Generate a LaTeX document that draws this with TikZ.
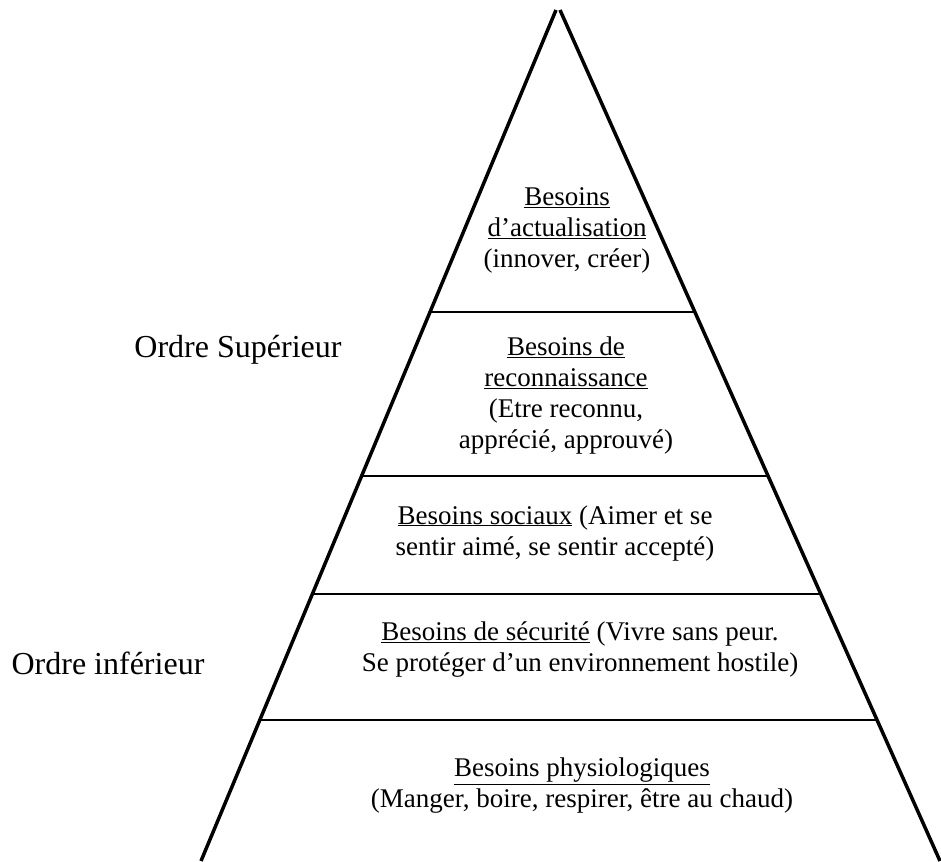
\documentclass[tikz,border=0pt]{standalone}
\usepackage{fontspec}
\setmainfont{Liberation Serif}
\usetikzlibrary{calc}

\begin{document}
\begin{tikzpicture}[x=1pt, y=-1pt,
    side/.style={line width=3.5pt},
    shelf/.style={line width=1.5pt},
    level/.style={align=center, inner sep=0pt, font=\fontsize{27}{31}\selectfont},
    order/.style={inner sep=0pt, font=\fontsize{32}{38}\selectfont}]
    \useasboundingbox (0,0) rectangle (941,861);
    % the two sides of the pyramid
    \coordinate (apex left) at (556,10);
    \coordinate (apex right) at (560,10);
    \coordinate (base left) at (201,861);
    \coordinate (base right) at (940,861);
    \draw [side] (apex left) -- (base left);
    \draw [side] (apex right) -- (base right);
    % the lines between the levels
    \coordinate (left 1) at ($(apex left)!0.3549!(base left)$);
    \coordinate (right 1) at ($(apex right)!0.3549!(base right)$);
    \coordinate (left 2) at ($(apex left)!0.5476!(base left)$);
    \coordinate (right 2) at ($(apex right)!0.5476!(base right)$);
    \coordinate (left 3) at ($(apex left)!0.6863!(base left)$);
    \coordinate (right 3) at ($(apex right)!0.6863!(base right)$);
    \coordinate (left 4) at ($(apex left)!0.8343!(base left)$);
    \coordinate (right 4) at ($(apex right)!0.8343!(base right)$);
    \draw [shelf] (left 1) -- (right 1);
    \draw [shelf] (left 2) -- (right 2);
    \draw [shelf] (left 3) -- (right 3);
    \draw [shelf] (left 4) -- (right 4);
    % needs, from the top down
    \node at (567,230) [level] (actualisation) {\underline{Besoins}\\\underline{d’actualisation}\\(innover, créer)};
    \node at (566,396) [level] (reconnaissance) {\underline{Besoins de}\\\underline{reconnaissance}\\(Etre reconnu,\\apprécié, approuvé)};
    \node at (555,533) [level] (sociaux) {\underline{Besoins sociaux} (Aimer et se\\sentir aimé, se sentir accepté)};
    \node at (580,650) [level] (securite) {\underline{Besoins de sécurité} (Vivre sans peur.\\Se protéger d’un environnement hostile)};
    \node at (582,786) [level] (physiologiques) {\underline{Besoins physiologiques}\\(Manger, boire, respirer, être au chaud)};
    % the two orders
    \node at (238,350) [order] (superieur) {Ordre Supérieur};
    \node at (108,663) [order] (inferieur) {Ordre inférieur};
\end{tikzpicture}
\end{document}
